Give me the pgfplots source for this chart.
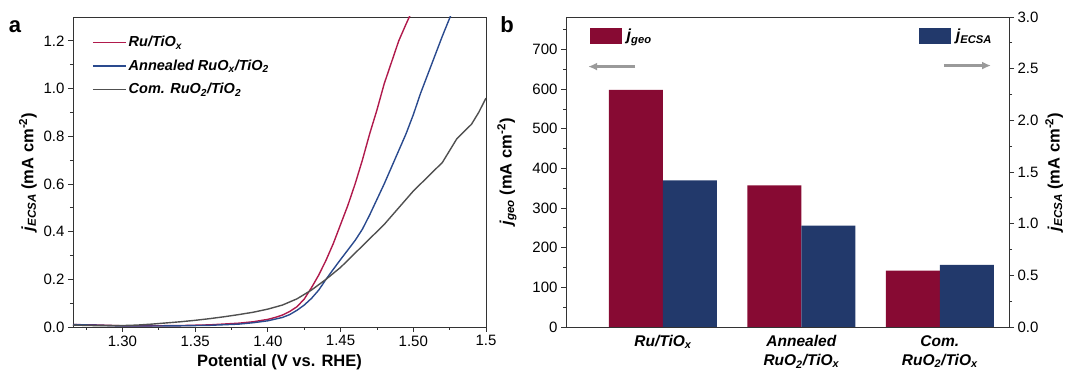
\documentclass[border=0pt]{standalone}
\usepackage{fontspec}
\setmainfont{Liberation Sans}
\usepackage{pgfplots}
\pgfplotsset{compat=1.18}
\usetikzlibrary{arrows.meta}
\definecolor{cred}{HTML}{B01A4C}
\definecolor{cblue}{HTML}{2A4A8E}
\definecolor{cgray}{HTML}{505050}
\definecolor{barred}{HTML}{870A33}
\definecolor{barblue}{HTML}{22396B}
\definecolor{arrowgray}{HTML}{9A9A9A}
\pgfplotsset{mystyle/.style={scale only axis, tick align=outside,
  axis line style={black!80, line width=0.8pt},
  every tick/.style={black!80, line width=0.8pt},
  major tick length=5pt, minor tick length=3pt,
  tick label style={font=\fontsize{15}{17}\selectfont},
  label style={font=\bfseries\fontsize{16.5}{19}\selectfont},
  /pgf/number format/assume math mode=true}}
\begin{document}
\begin{tikzpicture}
\path[use as bounding box] (0pt,0pt) rectangle (1068pt,382pt);
% ---------------- panel a
\begin{axis}[mystyle, at={(73pt,55pt)}, anchor=south west, width=413pt, height=310pt,
  xmin=1.266, xmax=1.55, ymin=0, ymax=1.3,
  xtick={1.30,1.35,1.40,1.45,1.50,1.55},
  xticklabels={1.30,1.35,1.40,1.45,1.50,1.5},
  minor xtick={1.275,1.325,1.375,1.425,1.475,1.525},
  ytick={0,0.2,0.4,0.6,0.8,1.0,1.2},
  minor ytick={0.1,0.3,0.5,0.7,0.9,1.1},
  yticklabel style={/pgf/number format/.cd, fixed, fixed zerofill, precision=1},
  xtick pos=bottom, ytick pos=left,
  xlabel={Potential (V vs. RHE)}, xlabel shift=2pt,
  ylabel={{\itshape j}\textsubscript{\itshape ECSA} (mA cm\textsuperscript{-2})},
  legend style={at={(axis cs:1.279,1.228)}, anchor=north west, draw=none, fill=none,
    font=\bfseries\itshape\fontsize{14.5}{16}\selectfont, row sep=7.5pt, inner sep=0pt},
  legend cell align=left,
  legend image code/.code={\draw[#1, line width=1.6pt] (0pt,0pt) -- (33pt,0pt);},
  clip=true]
\addplot[cred, line width=1.4pt] coordinates {
(1.266,0.010) (1.28,0.009) (1.29,0.007) (1.30,0.005) (1.32,0.005) (1.34,0.006)
(1.36,0.009) (1.38,0.016) (1.39,0.022) (1.40,0.032) (1.405,0.040) (1.41,0.050)
(1.415,0.065) (1.42,0.085) (1.425,0.117) (1.43,0.165) (1.435,0.218) (1.44,0.28)
(1.445,0.35) (1.45,0.43) (1.455,0.51) (1.46,0.60) (1.465,0.70) (1.47,0.81)
(1.475,0.91) (1.48,1.02) (1.485,1.11) (1.49,1.20) (1.495,1.27) (1.498,1.31)};
\addlegendentry{Ru/TiO\textsubscript{x}}
\addplot[cblue, line width=1.4pt] coordinates {
(1.266,0.010) (1.28,0.008) (1.30,0.004) (1.32,0.004) (1.34,0.005) (1.36,0.007)
(1.38,0.012) (1.39,0.018) (1.40,0.026) (1.41,0.040) (1.415,0.052) (1.42,0.070)
(1.425,0.092) (1.43,0.120) (1.435,0.155) (1.44,0.200) (1.445,0.242) (1.45,0.283)
(1.455,0.323) (1.46,0.363) (1.465,0.41) (1.47,0.47) (1.475,0.535) (1.48,0.60)
(1.485,0.67) (1.49,0.74) (1.495,0.81) (1.50,0.89) (1.505,0.98) (1.51,1.06)
(1.515,1.14) (1.52,1.22) (1.526,1.31)};
\addlegendentry{Annealed RuO\textsubscript{x}/TiO\textsubscript{2}}
\addplot[cgray, line width=1.4pt] coordinates {
(1.266,0.008) (1.28,0.006) (1.30,0.006) (1.31,0.008) (1.32,0.012) (1.33,0.017)
(1.34,0.022) (1.35,0.028) (1.36,0.035) (1.37,0.043) (1.38,0.052) (1.39,0.062)
(1.40,0.075) (1.41,0.092) (1.42,0.118) (1.43,0.155) (1.44,0.20) (1.45,0.25)
(1.46,0.31) (1.47,0.37) (1.48,0.43) (1.49,0.50) (1.50,0.57) (1.51,0.63)
(1.52,0.69) (1.525,0.74) (1.53,0.79) (1.535,0.82) (1.54,0.85) (1.545,0.90) (1.55,0.96)};
\addlegendentry{Com. RuO\textsubscript{2}/TiO\textsubscript{2}}
\end{axis}
\node[font=\bfseries\fontsize{22}{24}\selectfont] at (15pt,355pt) {a};
\node[font=\bfseries\fontsize{22}{24}\selectfont] at (507pt,357pt) {b};
% ---------------- panel b, left axis
\begin{axis}[mystyle, at={(566pt,55pt)}, anchor=south west, width=443pt, height=310pt,
  xmin=-0.7, xmax=2.5, ymin=0, ymax=782,
  xtick={0,1,2},
  xticklabels={Ru/TiO\textsubscript{x}, Annealed\\RuO\textsubscript{2}/TiO\textsubscript{x}, Com.\\RuO\textsubscript{2}/TiO\textsubscript{x}},
  xticklabel style={align=center, font=\bfseries\itshape\fontsize{15.5}{19}\selectfont},
  xtick style={draw=none},
  ytick={0,100,200,300,400,500,600,700},
  minor ytick={50,150,250,350,450,550,650,750},
  ytick pos=left,
  ylabel={{\itshape j}\textsubscript{\itshape geo} (mA cm\textsuperscript{-2})},
  ylabel shift=9pt,
  legend style={at={(axis cs:-0.53,757)}, anchor=north west, draw=none, fill=none,
    font=\bfseries\itshape\fontsize{16}{18}\selectfont, inner sep=0pt},
  legend image code/.code={\fill[#1] (0pt,-8pt) rectangle (32pt,8pt);}]
\addplot[ybar, bar width=0.39, bar shift=-0.195, fill=barred, draw=none] coordinates {(0,598) (1,357) (2,142.5)};
\addlegendentry{\hspace{3pt}j\textsubscript{geo}}
\end{axis}
% ---------------- panel b, right axis
\begin{axis}[mystyle, at={(566pt,55pt)}, anchor=south west, width=443pt, height=310pt,
  xmin=-0.7, xmax=2.5, ymin=0, ymax=3,
  axis x line=none, axis y line*=right,
  ytick={0,0.5,1.0,1.5,2.0,2.5,3.0},
  minor ytick={0.25,0.75,1.25,1.75,2.25,2.75},
  yticklabel style={/pgf/number format/.cd, fixed, fixed zerofill, precision=1},
  ylabel={{\itshape j}\textsubscript{\itshape ECSA} (mA cm\textsuperscript{-2})},
  legend style={at={(axis cs:1.848,2.905)}, anchor=north west, draw=none, fill=none,
    font=\bfseries\itshape\fontsize{16}{18}\selectfont, inner sep=0pt},
  legend image code/.code={\fill[#1] (0pt,-8pt) rectangle (32pt,8pt);}]
\addplot[ybar, bar width=0.39, bar shift=0.195, fill=barblue, draw=none] coordinates {(0,1.418) (1,0.981) (2,0.601)};
\addlegendentry{\hspace{3pt}j\textsubscript{ECSA}}
\draw[-{Latex[length=9pt,width=8pt]}, arrowgray, line width=2.6pt] (axis cs:-0.2,2.52) -- (axis cs:-0.54,2.52);
\draw[-{Latex[length=9pt,width=8pt]}, arrowgray, line width=2.6pt] (axis cs:2.03,2.53) -- (axis cs:2.37,2.53);
\end{axis}
\end{tikzpicture}
\end{document}
